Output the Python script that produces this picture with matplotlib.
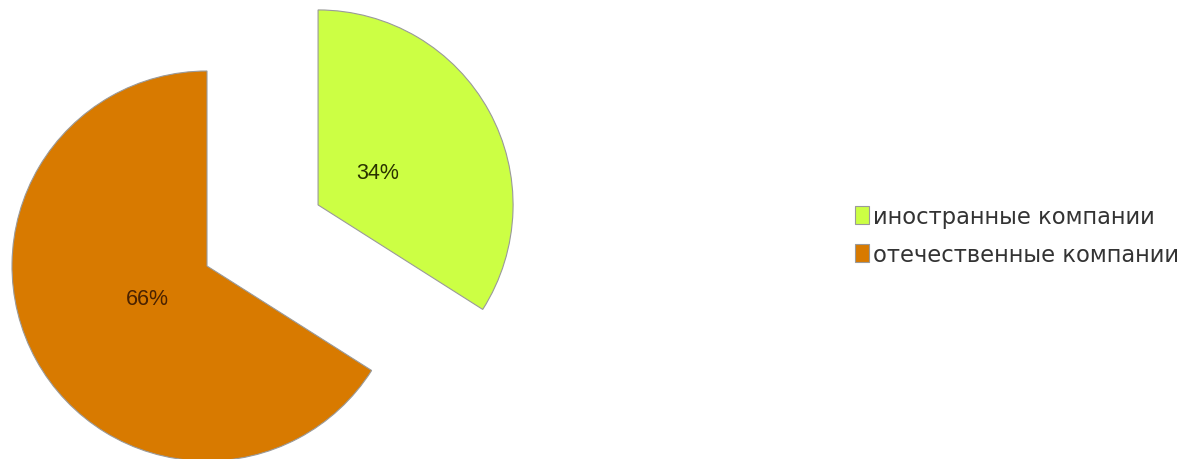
import matplotlib.pyplot as plt

labels = ['иностранные компании', 'отечественные компании']
shares = [34, 66]
colors = ['#ccff44', '#d87a00']
pct_colors = ['#2a3300', '#4a2200']

fig = plt.figure(figsize=(11.94, 4.6), dpi=100)
ax = fig.add_axes([0, 0, 1, 1])

wedges, texts, autotexts = ax.pie(
    shares, colors=colors, startangle=90, counterclock=False,
    explode=[0.65, 0], autopct='%d%%', pctdistance=0.35,
    wedgeprops=dict(edgecolor='#9a9a9a', linewidth=0.8),
    textprops=dict(fontsize=15.5, family='Liberation Sans'))
for t, c in zip(autotexts, pct_colors):
    t.set_color(c)

# keep the pie at a fixed place and size on the canvas
ax.set_xlim(-207 / 195, (1194 - 207) / 195)
ax.set_ylim(-193 / 195, 267 / 195)
ax.set_aspect('equal')
ax.axis('off')

leg = ax.legend(wedges, labels, loc='center left', bbox_to_anchor=(0.699, 0.486),
                frameon=False, handlelength=0.6, handleheight=0.85,
                handletextpad=0.2, labelspacing=0.65,
                prop=dict(family='DejaVu Sans', size=16.3))
for h in leg.legend_handles:
    h.set_edgecolor('#9a9a9a')
for t in leg.get_texts():
    t.set_color('#333333')

fig.savefig('out.png', dpi=100)
